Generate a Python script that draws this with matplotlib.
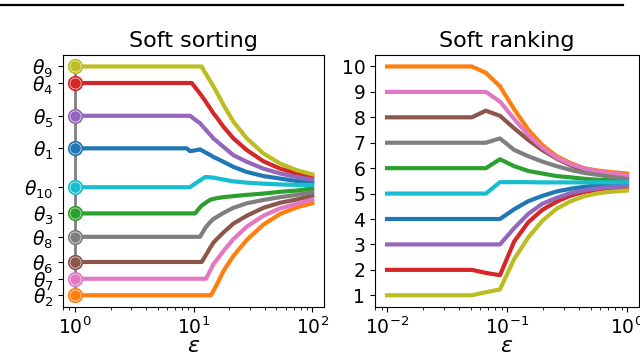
import matplotlib
matplotlib.use('Agg')
import matplotlib.pyplot as plt
from matplotlib.lines import Line2D

# epsilon grid (soft sorting)
eps_sort = [1, 8.75, 9.33, 9.66, 10.3, 11.35, 11.72, 12.5, 12.74, 13.77, 14.06,
            14.69, 15.7, 17.86, 21.68, 28.12, 38.82, 53.7, 74.3, 100]

# soft sorted values, one series per theta (y units match the theta ticks)
sort_t1 = [6.78, 6.78, 6.67, 6.68, 6.70, 6.74, 6.70, 6.63, 6.61, 6.52, 6.50,
           6.44, 6.38, 6.25, 6.05, 5.85, 5.69, 5.59, 5.49, 5.45]
sort_t2 = [1.0, 1.0, 1.0, 1.0, 1.0, 1.0, 1.0, 1.0, 1.0, 1.0, 1.0,
           1.17, 1.42, 1.95, 2.55, 3.18, 3.78, 4.20, 4.46, 4.62]
sort_t3 = [4.22, 4.22, 4.22, 4.22, 4.22, 4.46, 4.53, 4.62, 4.65, 4.75, 4.77,
           4.79, 4.82, 4.86, 4.90, 4.95, 5.00, 5.07, 5.12, 5.20]
sort_t4 = [9.35, 9.35, 9.35, 9.35, 9.18, 8.93, 8.84, 8.66, 8.60, 8.36, 8.30,
           8.16, 7.99, 7.63, 7.17, 6.71, 6.27, 5.98, 5.79, 5.65]
sort_t5 = [8.06, 8.06, 8.06, 8.01, 7.91, 7.77, 7.69, 7.54, 7.50, 7.32, 7.28,
           7.17, 7.06, 6.84, 6.51, 6.25, 5.98, 5.79, 5.65, 5.55]
sort_t6 = [2.31, 2.31, 2.31, 2.31, 2.31, 2.31, 2.31, 2.53, 2.59, 2.86, 2.92,
           3.07, 3.21, 3.47, 3.82, 4.13, 4.44, 4.64, 4.77, 4.91]
sort_t7 = [1.65, 1.65, 1.65, 1.65, 1.65, 1.65, 1.65, 1.65, 1.65, 1.96, 2.04,
           2.22, 2.39, 2.74, 3.21, 3.70, 4.13, 4.42, 4.60, 4.77]
sort_t8 = [3.30, 3.30, 3.30, 3.30, 3.30, 3.30, 3.41, 3.63, 3.69, 3.87, 3.91,
           4.00, 4.08, 4.24, 4.44, 4.62, 4.75, 4.86, 4.95, 5.05]
sort_t9 = [10, 10, 10, 10, 10, 10, 10, 9.76, 9.70, 9.44, 9.37,
           9.22, 8.98, 8.49, 7.83, 7.17, 6.58, 6.18, 5.92, 5.76]
sort_t10 = [5.25, 5.25, 5.25, 5.30, 5.39, 5.52, 5.56, 5.65, 5.65, 5.64, 5.63,
            5.63, 5.60, 5.55, 5.48, 5.43, 5.39, 5.36, 5.34, 5.34]

# theta values (positions of the theta ticks)
theta = [6.78, 1.0, 4.22, 9.35, 8.06, 2.31, 1.65, 3.30, 10.0, 5.25]
theta_labels = [r'$\theta_{%d}$' % (i + 1) for i in range(10)]

# epsilon grid (soft ranking)
eps_rank = [0.01, 0.0508, 0.0666, 0.0873, 0.1145, 0.1501, 0.1968, 0.2581,
            0.3383, 0.4436, 0.5816, 0.7626, 1.0]

rank_t1 = [4, 4, 4, 4, 4.38, 4.70, 4.91, 5.08, 5.19, 5.27, 5.32, 5.35, 5.38]
rank_t2 = [10, 10, 9.75, 9.22, 8.32, 7.52, 6.91, 6.48, 6.20, 5.99, 5.90, 5.84, 5.79]
rank_t3 = [6, 6, 6, 6.35, 6.08, 5.89, 5.79, 5.69, 5.64, 5.58, 5.54, 5.52, 5.50]
rank_t4 = [2, 2, 1.88, 1.79, 3.11, 3.87, 4.36, 4.68, 4.92, 5.07, 5.15, 5.19, 5.21]
rank_t5 = [3, 3, 3, 3, 3.64, 4.20, 4.60, 4.83, 5.02, 5.13, 5.21, 5.26, 5.29]
rank_t6 = [8, 8, 8.26, 8.06, 7.57, 7.11, 6.71, 6.38, 6.11, 5.92, 5.80, 5.72, 5.64]
rank_t7 = [9, 9, 9, 8.62, 7.94, 7.30, 6.80, 6.42, 6.16, 5.98, 5.87, 5.79, 5.72]
rank_t8 = [7, 7, 7, 7.17, 6.72, 6.47, 6.26, 6.08, 5.93, 5.81, 5.73, 5.65, 5.57]
rank_t9 = [1, 1, 1.12, 1.23, 2.42, 3.27, 3.93, 4.40, 4.70, 4.90, 5.02, 5.08, 5.12]
rank_t10 = [5, 5, 5, 5.45, 5.45, 5.45, 5.44, 5.44, 5.44, 5.44, 5.44, 5.44, 5.44]

sort_series = [sort_t1, sort_t2, sort_t3, sort_t4, sort_t5,
               sort_t6, sort_t7, sort_t8, sort_t9, sort_t10]
rank_series = [rank_t1, rank_t2, rank_t3, rank_t4, rank_t5,
               rank_t6, rank_t7, rank_t8, rank_t9, rank_t10]
colors = ['C%d' % i for i in range(10)]

fig = plt.figure(figsize=(6.4, 3.55), dpi=100)

# header rule of the page the figure was cut from
fig.add_artist(Line2D([0, 0.973], [0.986, 0.986], transform=fig.transFigure,
                      color='black', lw=1.6))

ax1 = fig.add_axes([0.0984, 0.136, 0.408, 0.709])
ax2 = fig.add_axes([0.586, 0.136, 0.4125, 0.709])

# soft sorting
ax1.plot([1, 1], [min(theta), max(theta)], color='gray', lw=2, zorder=1)
for s, c in zip(sort_series, colors):
    ax1.plot(eps_sort, s, color=c, lw=3, zorder=2)
for t, c in zip(theta, colors):
    ax1.plot(1, t, 'o', ms=10, color=c, zorder=3)
    ax1.plot(1, t, 'o', ms=8, mfc='none', mec='white', mew=0.5, alpha=0.8, zorder=4)
ax1.set_xscale('log')
ax1.set_yticks(theta)
ax1.set_yticklabels(theta_labels)
ax1.set_title('Soft sorting', fontsize=16)
ax1.set_xlabel(r'$\varepsilon$', fontsize=16)

# soft ranking
for r, c in zip(rank_series, colors):
    ax2.plot(eps_rank, r, color=c, lw=3)
ax2.set_xscale('log')
ax2.set_yticks(range(1, 11))
ax2.set_title('Soft ranking', fontsize=16)
ax2.set_xlabel(r'$\varepsilon$', fontsize=16)

for ax in (ax1, ax2):
    ax.tick_params(labelsize=13.5)
    ax.xaxis.set_label_coords(0.5, -0.115)

fig.savefig('out.png', dpi=100)
